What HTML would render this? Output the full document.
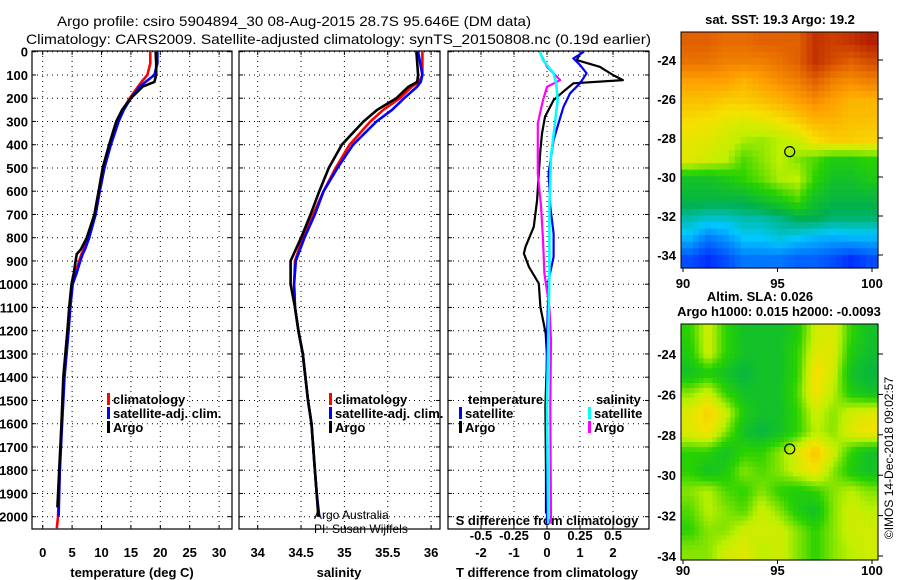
<!DOCTYPE html>
<html><head><meta charset="utf-8">
<style>
body{margin:0;background:#fff;}
svg{display:block;font-family:"Liberation Sans",sans-serif;}
.tk{font-size:13px;font-weight:bold;fill:#000;}
.lg{font-size:13px;font-weight:bold;fill:#000;}
.tt{font-size:14px;fill:#000;}
</style></head>
<body>
<svg id="chart" width="900" height="580" viewBox="0 0 900 580" xmlns="http://www.w3.org/2000/svg">
<rect width="900" height="580" fill="#fff"/>
<text class="tt" x="57" y="26" textLength="474" lengthAdjust="spacingAndGlyphs">Argo profile: csiro 5904894_30 08-Aug-2015 28.7S 95.646E (DM data)</text>
<text class="tt" x="26" y="44" textLength="625" lengthAdjust="spacingAndGlyphs">Climatology: CARS2009. Satellite-adjusted climatology: synTS_20150808.nc (0.19d earlier)</text>
<g id="layer"></g>
</svg>
<script>
// ---- Temperature profiles ----
const tDepth = [0,50,100,130,150,200,250,300,400,500,600,700,800,850,870,900,950,1000,1100,1200,1400,1600,1800,1960];
const tArgo  = [19.2,19.3,19.3,19.0,17.0,15.0,13.5,12.5,11.3,10.2,9.5,8.8,7.5,6.5,5.8,5.6,5.3,4.9,4.5,4.2,3.5,3.2,2.8,2.5];
const tClimDepth = [0,50,100,130,150,200,250,300,400,500,600,700,800,850,870,900,950,1000,1100,1200,1400,1600,1800,2000,2050];
const tClim  = [18.3,18.3,17.8,16.8,16.2,14.8,13.6,12.7,11.4,10.5,9.7,9.0,7.8,7.0,6.6,6.2,5.6,5.0,4.6,4.3,3.6,3.2,2.9,2.6,2.4];
const tSatDepth = [0,50,100,130,150,200,250,300,400,500,600,700,800,850,870,900,950,1000,1100,1200,1400,1600,1800,2000];
const tSat   = [19.5,19.5,19.0,17.5,16.5,15.0,13.8,12.9,11.6,10.5,9.7,9.0,7.9,7.2,6.8,6.4,5.8,5.1,4.7,4.4,3.7,3.3,2.9,2.7];
// ---- Salinity profiles ----
const sDepth = [0,100,130,150,200,250,300,400,500,600,700,800,900,1000,1100,1200,1300,1400,1500,1600,1700,1800,1900,2000];
const sArgo  = [35.83,35.85,35.84,35.74,35.60,35.38,35.22,34.97,34.82,34.71,34.61,34.50,34.38,34.38,34.43,34.47,34.52,34.55,34.58,34.62,34.64,34.66,34.68,34.70];
const sClim  = [35.90,35.90,35.86,35.78,35.64,35.45,35.30,35.06,34.90,34.76,34.64,34.52,34.43,34.42,34.43,34.47,34.52,34.55,34.58,34.62,34.64,34.66,34.68,34.70];
const sSat   = [35.85,35.90,35.88,35.84,35.69,35.55,35.37,35.10,34.92,34.76,34.66,34.54,34.44,34.42,34.43,34.47,34.52,34.55,34.58,34.62,34.64,34.66,34.68,34.71];
// ---- Differences from climatology ----
const dTArgoDepth = [10,36,65,100,122,136,165,208,280,352,423,524,638,753,839,868,925,997,1098,1212,1312,1527,1814,1986];
const dTArgo = [1.0,0.9,1.6,2.0,2.3,0.8,0.55,0.2,-0.06,-0.15,-0.2,-0.25,-0.3,-0.4,-0.65,-0.7,-0.55,-0.25,-0.2,-0.04,0,-0.05,-0.03,-0.03];
const dTSatDepth = [0,29,57,93,136,179,237,308,380,524,667,782,882,983,1240,1600,2030];
const dTSat  = [1.12,0.8,1.0,1.2,1.0,0.7,0.5,0.35,0.2,0.05,0.1,0.2,0.2,0.05,0.0,-0.02,0.0];
const dSSatDepth = [0,36,93,136,208,308,451,667,954,1240,1527,2030];
const dSSat  = [-0.053,-0.03,0.05,0.07,0.08,0.06,0.03,0.018,0.018,0.01,0.0,0.01];
const dSArgoDepth = [7,65,122,151,208,308,380,524,667,810,954,1098,1240,1527,2030];
const dSArgo = [-0.05,0.0,0.1,0.0,-0.03,-0.07,-0.07,-0.07,-0.045,-0.03,-0.02,0.018,0.03,0.025,0.03];
// ---- Tick labels ----
const depthTicks = [0,100,200,300,400,500,600,700,800,900,1000,1100,1200,1300,1400,1500,1600,1700,1800,1900,2000];
const tTicks = [0,5,10,15,20,25,30];
const sTicks = [34,34.5,35,35.5,36];
const sTickLabels = ["34","34.5","35","35.5","36"];
const dTTicks = [-2,-1,0,1,2];
const dSTicks = [-0.5,-0.25,0,0.25,0.5];
const dSTickLabels = ["-0.5","-0.25","0","0.25","0.5"];
const latTicks = [-24,-26,-28,-30,-32,-34];
const lonTicks = [90,95,100];
// ---- Map grids (colour index 0..1) ----
const sstGrid = [
[0.85,0.85,0.83,0.83,0.85,0.85,0.85,0.92,0.90,0.92,0.95],
[0.82,0.82,0.80,0.80,0.80,0.82,0.85,0.92,0.88,0.85,0.88],
[0.75,0.75,0.75,0.72,0.75,0.78,0.80,0.85,0.80,0.78,0.80],
[0.70,0.70,0.68,0.68,0.70,0.72,0.75,0.78,0.75,0.72,0.72],
[0.66,0.65,0.63,0.62,0.63,0.65,0.68,0.72,0.72,0.70,0.70],
[0.63,0.62,0.60,0.57,0.56,0.58,0.60,0.65,0.68,0.68,0.67],
[0.62,0.60,0.58,0.52,0.55,0.58,0.55,0.52,0.48,0.48,0.50],
[0.45,0.45,0.47,0.50,0.53,0.57,0.58,0.50,0.45,0.45,0.47],
[0.42,0.42,0.42,0.42,0.45,0.48,0.52,0.45,0.42,0.42,0.42],
[0.35,0.33,0.33,0.35,0.35,0.37,0.40,0.40,0.38,0.38,0.38],
[0.28,0.22,0.25,0.30,0.30,0.32,0.30,0.28,0.27,0.28,0.28],
[0.18,0.15,0.18,0.22,0.22,0.22,0.20,0.20,0.18,0.15,0.18]];
const slaGrid = [
[0.50,0.60,0.50,0.45,0.45,0.45,0.48,0.60,0.62,0.50,0.45],
[0.48,0.60,0.50,0.45,0.45,0.45,0.50,0.62,0.62,0.48,0.44],
[0.45,0.48,0.45,0.42,0.45,0.45,0.50,0.66,0.60,0.45,0.42],
[0.55,0.60,0.50,0.45,0.45,0.45,0.52,0.65,0.58,0.48,0.45],
[0.62,0.68,0.60,0.48,0.45,0.45,0.50,0.60,0.55,0.60,0.62],
[0.62,0.65,0.55,0.45,0.42,0.45,0.50,0.58,0.55,0.62,0.65],
[0.50,0.50,0.45,0.50,0.50,0.55,0.62,0.70,0.60,0.50,0.45],
[0.50,0.45,0.48,0.55,0.52,0.55,0.60,0.65,0.55,0.48,0.45],
[0.55,0.58,0.52,0.50,0.55,0.50,0.48,0.50,0.55,0.58,0.55],
[0.52,0.58,0.55,0.52,0.60,0.55,0.48,0.45,0.55,0.60,0.58],
[0.50,0.55,0.55,0.60,0.60,0.60,0.55,0.50,0.55,0.60,0.60],
[0.55,0.55,0.60,0.62,0.58,0.60,0.55,0.50,0.55,0.58,0.60]];

const NS='http://www.w3.org/2000/svg';
const layer=document.getElementById('layer');
function mk(tag,attrs,parent){const e=document.createElementNS(NS,tag);for(const k in attrs)e.setAttribute(k,attrs[k]);(parent||layer).appendChild(e);return e;}
function txt(x,y,s,cls,anchor,parent){const e=mk('text',{x:x,y:y,class:cls,'text-anchor':anchor||'start'},parent);e.textContent=s;return e;}

const yTop=51.7, yPer=0.2325, boxTop=51, boxBot=529;
const yD=d=>yTop+d*yPer;
const xT=v=>42.7+v*5.88;
const xS=v=>257.7+(v-34)*86.7;
const xDT=v=>547+v*33;
const xDS=v=>547+v*132;

function panel(x0,x1,name,xticks,xf){
  const g=mk('g',{});
  
  
  depthTicks.forEach(d=>{const y=yD(d);
    mk('line',{x1:x0,x2:x1,y1:y,y2:y,stroke:'#000','stroke-width':1,'stroke-dasharray':'1,4'},g);
    mk('line',{x1:x0,x2:x0+4,y1:y,y2:y,stroke:'#000'},g);
    mk('line',{x1:x1-4,x2:x1,y1:y,y2:y,stroke:'#000'},g);});
  xticks.forEach(v=>{const x=xf(v);
    mk('line',{x1:x,x2:x,y1:boxTop,y2:boxBot,stroke:'#000','stroke-dasharray':'1,4'},g);
    mk('line',{x1:x,x2:x,y1:boxTop,y2:boxTop+4,stroke:'#000'},g);
    mk('line',{x1:x,x2:x,y1:boxBot-4,y2:boxBot,stroke:'#000'},g);});
  mk('rect',{x:x0,y:boxTop,width:x1-x0,height:boxBot-boxTop,fill:'none',stroke:'#000','stroke-width':1.2},g);
  return g;
}
function line(xs,ds,xf,color,name,w){
  const pts=xs.map((v,i)=>xf(v).toFixed(1)+','+yD(ds[i]).toFixed(1)).join(' ');
  const p=mk('polyline',{points:pts,fill:'none',stroke:color,'stroke-width':w||2.6,'stroke-linejoin':'round'});
  
  
}
function legend(x,y,color,label,name){
  const g=mk('g',{});
  
  
  mk('rect',{x:x,y:y-11,width:3,height:12,fill:color},g);
  txt(x+6,y,label,'lg','start',g);
}

// Panel 1 temperature
panel(32,232,'temperature-panel',tTicks,xT);
depthTicks.forEach(d=>{const t=txt(28,yD(d)+5,String(d),'tk','end');});
tTicks.forEach(v=>{const t=txt(xT(v),557,String(v),'tk','middle');});
{const t=txt(132,577,'temperature (deg C)','tk','middle');}
line(tClim,tClimDepth,xT,'#ff0000','temperature-climatology-line');
line(tSat,tSatDepth,xT,'#0000ff','temperature-satellite-line');
line(tArgo,tDepth,xT,'#000000','temperature-argo-line');
legend(107,404,'#ff0000','climatology','legend-climatology');
legend(107,418,'#0000ff','satellite-adj. clim.','legend-satellite');
legend(107,432,'#000000','Argo','legend-argo');

// Panel 2 salinity
panel(239,440,'salinity-panel',sTicks,xS);
sTicks.forEach((v,i)=>{const t=txt(xS(v),557,sTickLabels[i],'tk','middle');});
{const t=txt(339,577,'salinity','tk','middle');}
line(sClim,sDepth,xS,'#ff0000','salinity-climatology-line');
line(sSat,sDepth,xS,'#0000ff','salinity-satellite-line');
line(sArgo,sDepth,xS,'#000000','salinity-argo-line');
legend(329,404,'#ff0000','climatology','legend-s-climatology');
legend(329,418,'#0000ff','satellite-adj. clim.','legend-s-satellite');
legend(329,432,'#000000','Argo','legend-s-argo');
{const t=txt(314,519,'Argo Australia','tk');t.setAttribute('style','font-weight:normal;font-size:12px');}
{const t=txt(314,533,'PI: Susan Wijffels','tk');t.setAttribute('style','font-weight:normal;font-size:12px');}

// Panel 3 differences
panel(448,649,'difference-panel',dTTicks,xDT);
dTTicks.forEach(v=>{const t=txt(xDT(v),557,String(v),'tk','middle');});
{const t=txt(547,577,'T difference from climatology','tk','middle');}
dSTicks.forEach((v,i)=>{const t=txt(xDS(v),540,dSTickLabels[i],'tk','middle');});
{const t=txt(547,525,'S difference from climatology','tk','middle');}
line(dTArgo,dTArgoDepth,xDT,'#000000','t-diff-argo-line',2.2);
line(dTSat,dTSatDepth,xDT,'#0000ff','t-diff-satellite-line',2.2);
line(dSArgo,dSArgoDepth,xDS,'#ff00ff','s-diff-argo-line',2.2);
line(dSSat,dSSatDepth,xDS,'#00ffff','s-diff-satellite-line',2.6);
{const t=txt(468,404,'temperature','lg');}
legend(459,418,'#0000ff','satellite','legend-t-satellite');
legend(459,432,'#000000','Argo','legend-t-argo');
{const t=txt(596,404,'salinity','lg');}
legend(588,418,'#00ffff','satellite','legend-s-sat');
legend(588,432,'#ff00ff','Argo','legend-s-argo-diff');

// colormap
const cstops=[[0,[0,0,140]],[0.15,[0,48,255]],[0.3,[0,200,255]],[0.4,[0,176,80]],[0.5,[40,210,0]],[0.58,[190,240,0]],[0.65,[245,225,0]],[0.75,[255,160,0]],[0.85,[225,96,0]],[1,[160,0,0]]];
function cmap(v){v=Math.max(0,Math.min(1,v));for(let i=1;i<cstops.length;i++){if(v<=cstops[i][0]){const a=cstops[i-1],b=cstops[i];const f=(v-a[0])/(b[0]-a[0]);const c=a[1].map((x,k)=>Math.round(x+(b[1][k]-x)*f));return 'rgb('+c.join(',')+')';}}return 'rgb(160,0,0)';}

function drawMap(grid,x0,y0,w,h,name,sub,latTop,latPer,labOff){
  const g=mk('g',{});
  
  
  const R=grid.length,C=grid[0].length;
  const nr=R*sub,nc=C*sub;
  for(let i=0;i<nr;i++)for(let j=0;j<nc;j++){
    const fr=Math.min(R-1,Math.max(0,(i+0.5)/sub-0.5)),fc=Math.min(C-1,Math.max(0,(j+0.5)/sub-0.5));
    const r0=Math.floor(fr),c0=Math.floor(fc),r1=Math.min(R-1,r0+1),c1=Math.min(C-1,c0+1),a=fr-r0,b=fc-c0;
    const v=grid[r0][c0]*(1-a)*(1-b)+grid[r0][c1]*(1-a)*b+grid[r1][c0]*a*(1-b)+grid[r1][c1]*a*b;
    const cell=mk('rect',{x:(x0+j*w/nc).toFixed(2),y:(y0+i*h/nr).toFixed(2),width:(w/nc+0.6).toFixed(2),height:(h/nr+0.6).toFixed(2),fill:cmap(v)},g);
    
    
  }
  mk('rect',{x:x0,y:y0,width:w,height:h,fill:'none',stroke:'#000'},g);
  latTicks.forEach(l=>{const y=latTop+(l-latTicks[0])*-latPer;
    mk('line',{x1:x0+w,x2:x0+w+5,y1:y,y2:y,stroke:'#000'},g);
    const t=txt(676,y+5,String(l),'tk','end',g);});
  lonTicks.forEach(l=>{const x=683+(l-90)*18.9;
    mk('line',{x1:x,x2:x,y1:y0+h,y2:y0+h+4,stroke:'#000'},g);
    const t=txt(x,y0+h+labOff,String(l),'tk','middle',g);});
  const c=mk('ellipse',{cx:683+(95.646-90)*18.9,cy:latTop+(-28.7+24)*-latPer,rx:5,ry:5,fill:'none',stroke:'#000','stroke-width':1.2},g);
  
  
}
drawMap(sstGrid,681,32,197,236,'sst-map',3,60,19.5,20);
drawMap(slaGrid,681,324,197,236,'sla-map',4,354,20.2,15);
{const t=txt(780,24,'sat. SST: 19.3 Argo: 19.2','tk','middle');}
{const t=txt(760,301,'Altim. SLA: 0.026','tk','middle');}
{const t=txt(779,316,'Argo h1000: 0.015 h2000: -0.0093','tk','middle');}
{const t=txt(0,0,'©IMOS 14-Dec-2018 09:02:57','tk','middle');t.setAttribute('style','font-weight:normal;font-size:12px');t.setAttribute('transform','translate(893,458) rotate(-90)');}
</script>
</body></html>
